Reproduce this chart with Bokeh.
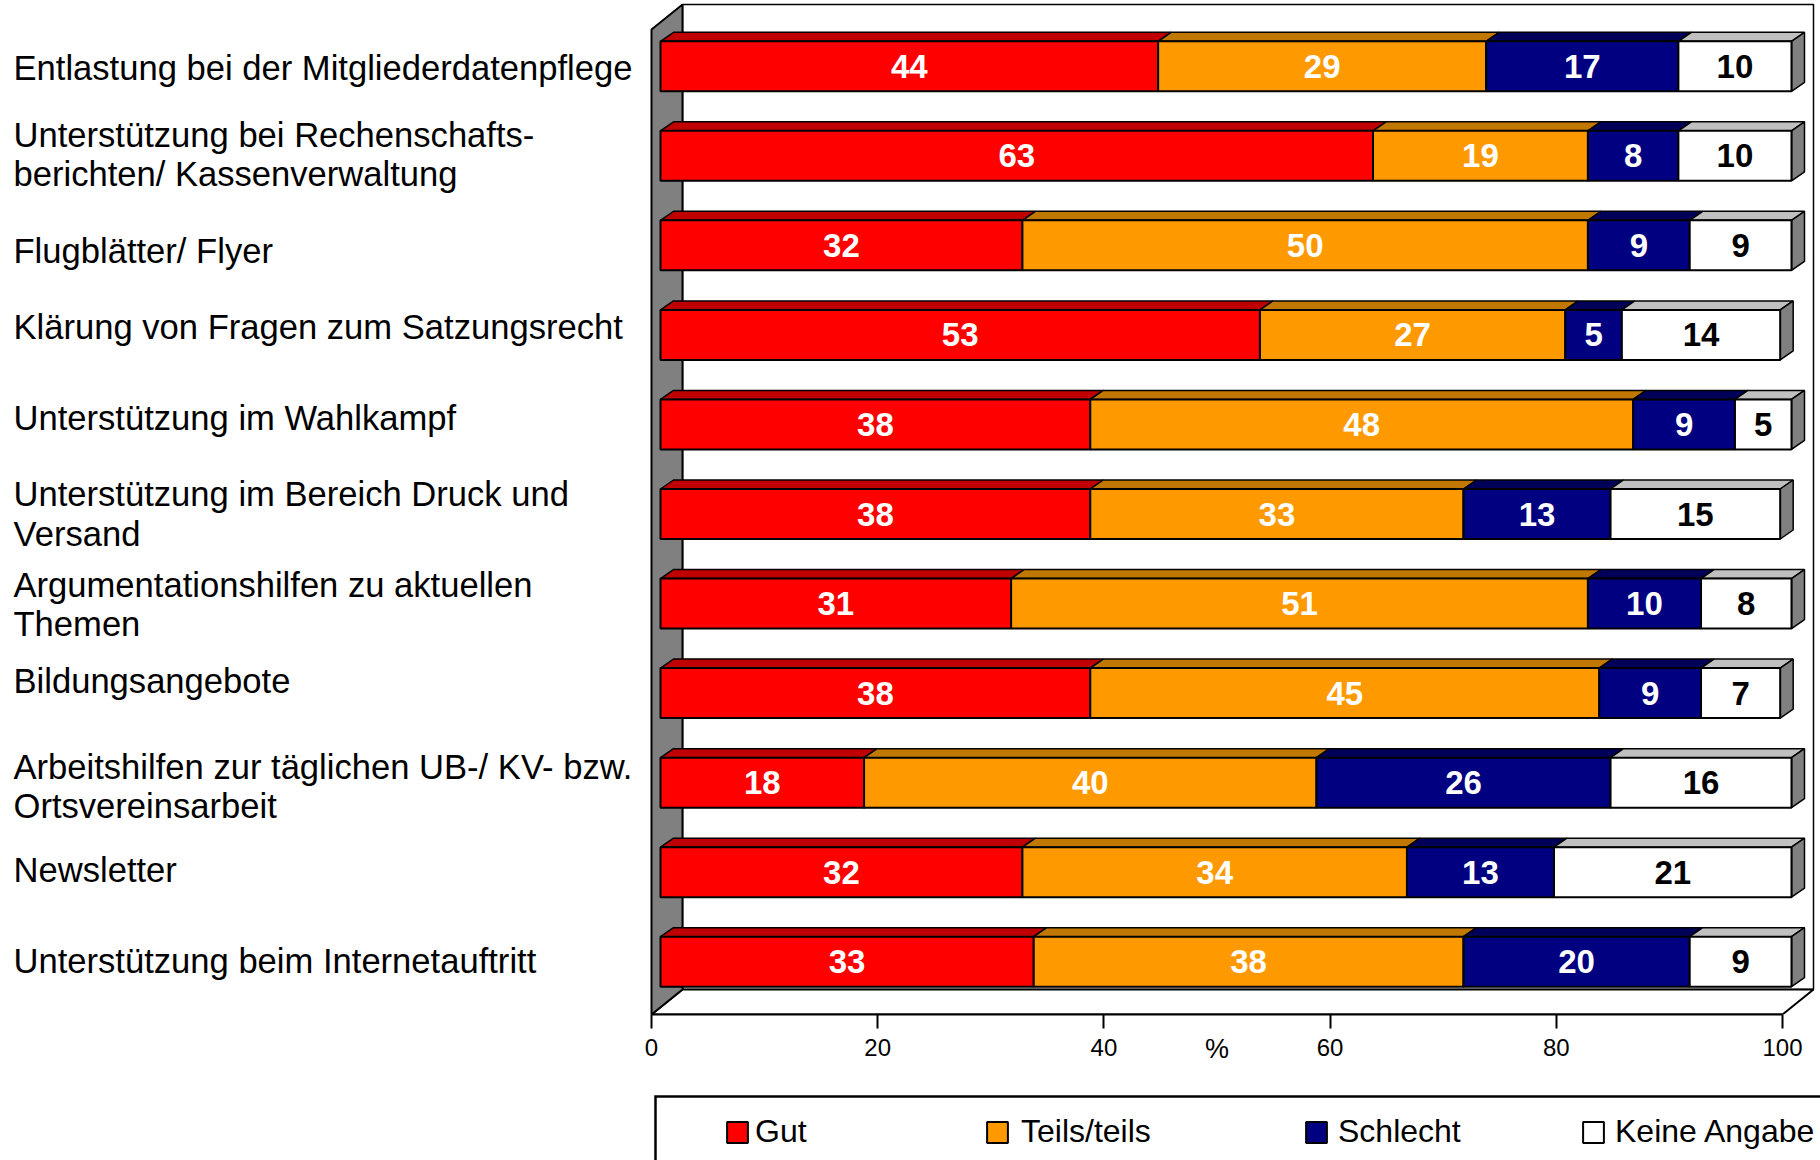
from bokeh.plotting import figure
from bokeh.models import Range1d, FixedTicker, Legend, LegendItem, LinearAxis
from bokeh.layouts import column
from bokeh.embed import file_html
from bokeh.resources import INLINE
from bokeh.core.properties import value

# ---------------- data ----------------
categories = [
    "Entlastung bei der Mitgliederdatenpflege",
    "Unterstützung bei Rechenschafts-\nberichten/ Kassenverwaltung",
    "Flugblätter/ Flyer",
    "Klärung von Fragen zum Satzungsrecht",
    "Unterstützung im Wahlkampf",
    "Unterstützung im Bereich Druck und\nVersand",
    "Argumentationshilfen zu aktuellen\nThemen",
    "Bildungsangebote",
    "Arbeitshilfen zur täglichen UB-/ KV- bzw.\nOrtsvereinsarbeit",
    "Newsletter",
    "Unterstützung beim Internetauftritt",
]
series_names = ["Gut", "Teils/teils", "Schlecht", "Keine Angabe"]
gut = [44, 63, 32, 53, 38, 38, 31, 38, 18, 32, 33]
teils = [29, 19, 50, 27, 48, 33, 51, 45, 40, 34, 38]
schlecht = [17, 8, 9, 5, 9, 13, 10, 9, 26, 13, 20]
keine = [10, 10, 9, 14, 5, 15, 8, 7, 16, 21, 9]
x_ticks = [0, 20, 40, 60, 80, 100]
axis_title = "%"
axis_title_pos = 50

# ---------------- style / layout ----------------
front_colors = ["#FF0000", "#FF9900", "#000080", "#FFFFFF"]
top_colors = ["#C00000", "#C07800", "#000058", "#C0C0C0"]
label_colors = ["white", "white", "white", "black"]
SIDE = "#808080"
FONT = "Liberation Sans"

W = 1820
HM = 1088                  # main figure height
HL = 72                    # legend strip height
FB = 1014                  # frame bottom (px) = floor front line
PX = 11.31                 # px per percent
X0PX = 651                 # px position of 0 %
PY = 89.545                # px per category
N = len(categories)
label_nudge_px = [2, -1, 6, -8, -6, 0, 1, -12, 4, -2, -1]   # small vertical shifts of row labels

x_start = -X0PX / PX
x_end = (W - X0PX) / PX
y_end = FB / PY

WDX, WDY = 31 / PX, 25 / PY        # wall depth
BOX, BOY = 9 / PX, 8 / PY          # bar front offset from front plane
BDX, BDY = 13 / PX, 9 / PY         # bar depth
BH = 50 / PY                       # bar front height

p = figure(width=W, height=HM, output_backend="svg", toolbar_location=None,
           x_range=Range1d(x_start, x_end), y_range=Range1d(0, y_end),
           min_border_left=0, min_border_right=0, min_border_top=0,
           min_border_bottom=HM - FB, y_axis_location=None,
           outline_line_color=None, background_fill_color="white",
           border_fill_color="white")
p.grid.visible = False

# walls and floor
p.quad(left=[WDX], right=[100 + WDX], bottom=[WDY], top=[N + WDY],
       fill_color="white", line_color="black", line_width=1.5)
p.patch([0, 100, 100 + WDX, WDX], [0, 0, WDY, WDY],
        fill_color="white", line_color="black", line_width=2)
p.patch([0, WDX, WDX, 0], [0, WDY, N + WDY, N],
        fill_color=SIDE, line_color="black", line_width=2)

series = [gut, teils, schlecht, keine]
centers = [N - i - 0.5 + BOY for i in range(N)]
tops = [c + BH / 2 for c in centers]
bottoms = [c - BH / 2 for c in centers]

cum = [0] * N
seg_geom = []
for k, vals in enumerate(series):
    lefts = [cum[i] + BOX for i in range(N)]
    rights = [cum[i] + vals[i] + BOX for i in range(N)]
    cum = [cum[i] + vals[i] for i in range(N)]
    seg_geom.append((lefts, rights))
    xs = [[lefts[i], rights[i], rights[i] + BDX, lefts[i] + BDX] for i in range(N)]
    ys = [[tops[i], tops[i], tops[i] + BDY, tops[i] + BDY] for i in range(N)]
    p.patches(xs, ys, fill_color=top_colors[k], line_color="black", line_width=1.5)

ends = [cum[i] + BOX for i in range(N)]
p.patches([[ends[i], ends[i] + BDX, ends[i] + BDX, ends[i]] for i in range(N)],
          [[bottoms[i], bottoms[i] + BDY, tops[i] + BDY, tops[i]] for i in range(N)],
          fill_color=SIDE, line_color="black", line_width=1.5)

for k, vals in enumerate(series):
    lefts, rights = seg_geom[k]
    p.quad(left=lefts, right=rights, top=tops, bottom=bottoms,
           fill_color=front_colors[k], line_color="black", line_width=2)
    p.text(x=[(lefts[i] + rights[i]) / 2 for i in range(N)], y=centers,
           text=[str(v) for v in vals], text_align="center", text_baseline="middle",
           text_font=value(FONT), text_font_style="bold", text_font_size="33px",
           text_color=label_colors[k])

# category labels
p.text(x=[x_start + 13 / PX] * N,
       y=[centers[i] - label_nudge_px[i] / PY for i in range(N)], text=categories,
       text_align="left", text_baseline="middle", text_font=value(FONT),
       text_font_size="34.6px", text_color="black", text_line_height=1.03)

# x axis
ax = p.xaxis[0]
ax.ticker = FixedTicker(ticks=x_ticks)
ax.bounds = (0, 100)
ax.major_tick_out = 14
ax.major_tick_in = 0
ax.minor_tick_line_color = None
ax.axis_line_width = 2
ax.major_tick_line_width = 2
ax.major_label_text_font = FONT
ax.major_label_text_font_size = "24px"
ax.major_label_text_color = "black"
ax.major_label_standoff = 10

# second axis carrying only the "%" title under the middle of the scale
ax2 = LinearAxis(ticker=FixedTicker(ticks=[axis_title_pos]),
                 major_label_overrides={axis_title_pos: axis_title},
                 axis_line_color=None, major_tick_line_color=None,
                 minor_tick_line_color=None, major_tick_out=0, major_tick_in=0,
                 major_label_standoff=-25, major_label_text_font=FONT,
                 major_label_text_font_size="27px", major_label_text_color="black")
p.add_layout(ax2, "below")

# ---------------- legend strip ----------------
p2 = figure(width=W, height=HL, output_backend="svg", toolbar_location=None,
            x_range=Range1d(0, W), y_range=Range1d(HM + HL, HM),
            min_border_left=0, min_border_right=0, min_border_top=0,
            min_border_bottom=0, x_axis_location=None, y_axis_location=None,
            outline_line_color=None, background_fill_color="white",
            border_fill_color="white")
p2.grid.visible = False
p2.line(x=[655, 655, W + 20], y=[HM + HL + 20, 1096, 1096],
        line_color="black", line_width=2.5, line_join="miter")

legend_x = [724, 984, 1303, 1580]
legend_standoff = [5, 11, 9, 9]
for k, name in enumerate(series_names):
    # legend key renderer, placed outside the visible strip
    r = p2.quad(left=[-60], right=[-40], top=[HM - 40], bottom=[HM - 60],
                fill_color=front_colors[k], line_color="black", line_width=2)
    lg = Legend(items=[LegendItem(label=name, renderers=[r])],
                location=(legend_x[k], 10), orientation="horizontal",
                border_line_color=None, background_fill_alpha=0, padding=0,
                margin=0, spacing=0, glyph_width=26, glyph_height=26,
                label_standoff=legend_standoff[k], label_text_font=FONT,
                label_text_font_size="32px", label_text_color="black",
                label_height=26)
    p2.add_layout(lg, "center")

layout = column(p, p2, spacing=0)
open("out.html", "w").write(file_html(layout, INLINE))
